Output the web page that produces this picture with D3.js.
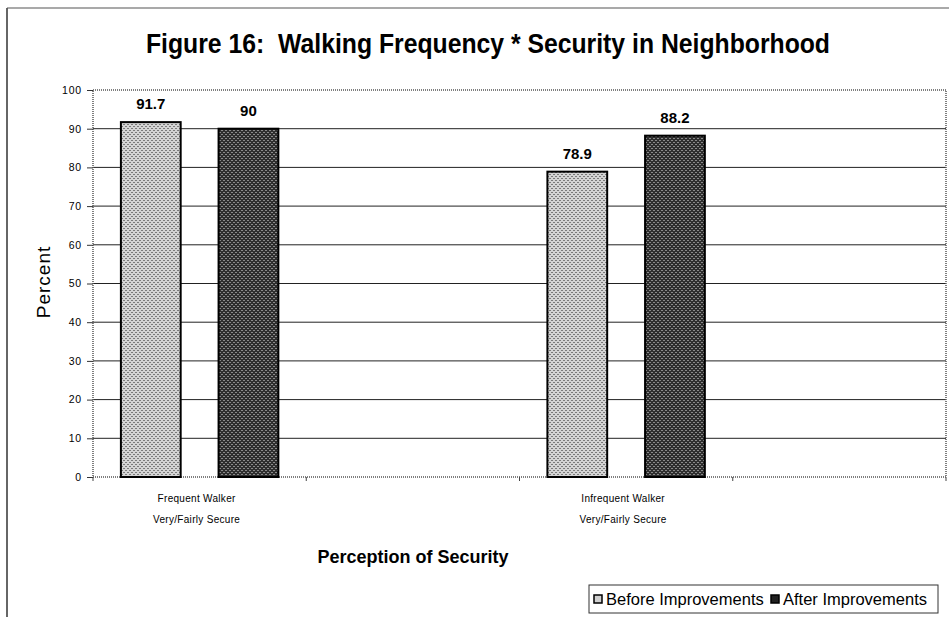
<!DOCTYPE html>
<html>
<head>
<meta charset="utf-8">
<script src="https://cdn.jsdelivr.net/npm/d3@7"></script>
<style>
  html, body { margin: 0; padding: 0; background: #fff; }
  svg { display: block; font-family: "Liberation Sans", Arial, sans-serif; }
</style>
</head>
<body>
<svg id="chart" width="949" height="617"></svg>
<script>
// ---- data ----
const categories = ["Frequent Walker|Very/Fairly Secure", "slot2", "Infrequent Walker|Very/Fairly Secure", "slot4"];
const categoryLabels = [["Frequent Walker", "Very/Fairly Secure"], [], ["Infrequent Walker", "Very/Fairly Secure"], []];
const seriesNames = ["Before Improvements", "After Improvements"];
const beforeValues = [91.7, null, 78.9, null];
const afterValues = [90, null, 88.2, null];
const yTicks = [0, 10, 20, 30, 40, 50, 60, 70, 80, 90, 100];
const titleText = "Figure 16:  Walking Frequency * Security in Neighborhood";
const xTitle = "Perception of Security";
const yTitle = "Percent";

// ---- layout ----
const svg = d3.select("#chart");
const plot = { left: 93, right: 946, top: 90, bottom: 477 };

const defs = svg.append("defs");
function dither(id, base, dot) {
  const p = defs.append("pattern").attr("id", id).attr("width", 4).attr("height", 4)
    .attr("patternUnits", "userSpaceOnUse");
  p.append("rect").attr("width", 4).attr("height", 4).attr("fill", base);
  p.append("rect").attr("x", 0).attr("y", 0).attr("width", 1).attr("height", 1).attr("fill", dot);
  p.append("rect").attr("x", 2).attr("y", 2).attr("width", 1).attr("height", 1).attr("fill", dot);
  p.append("rect").attr("x", 1).attr("y", 2).attr("width", 1).attr("height", 1).attr("fill", dot);
  p.append("rect").attr("x", 3).attr("y", 0).attr("width", 1).attr("height", 1).attr("fill", dot);
}
dither("patBefore", "#d4d4d4", "#7a7a7a");
dither("patAfter", "#2e2e2e", "#8a8a8a");
const fills = ["url(#patBefore)", "url(#patAfter)"];

// outer frame
svg.append("line").attr("x1", 7).attr("x2", 7).attr("y1", 8).attr("y2", 617)
  .attr("stroke", "#333").attr("stroke-width", 1.5);
svg.append("line").attr("x1", 7).attr("x2", 949).attr("y1", 8).attr("y2", 8)
  .attr("stroke", "#555").attr("stroke-width", 1.2);

// title
svg.append("text").attr("x", 488).attr("y", 53).attr("text-anchor", "middle")
  .attr("font-weight", "bold").attr("font-size", 27)
  .style("white-space", "pre").attr("xml:space", "preserve")
  .attr("textLength", 684).attr("lengthAdjust", "spacingAndGlyphs")
  .text(titleText);

// scales
const x = d3.scaleBand().domain(categories).range([plot.left, plot.right]).paddingInner(0).paddingOuter(0);
const xSub = d3.scaleBand().domain(seriesNames).range([0, x.bandwidth()]).paddingInner(0.388).paddingOuter(0.2857);
const y = d3.scaleLinear().domain([0, 100]).range([plot.bottom, plot.top]);

// gridlines
svg.append("g").selectAll("line").data(yTicks.filter(t => t > 0 && t < 100)).join("line")
  .attr("x1", plot.left).attr("x2", plot.right)
  .attr("y1", d => y(d)).attr("y2", d => y(d))
  .attr("stroke", "#222").attr("stroke-width", 1);

// plot border (dotted)
svg.append("rect").attr("x", plot.left).attr("y", plot.top)
  .attr("width", plot.right - plot.left).attr("height", plot.bottom - plot.top)
  .attr("fill", "none").attr("stroke", "#555").attr("stroke-width", 1.5)
  .attr("stroke-dasharray", "1,1");

// y axis
const yAxis = d3.axisLeft(y).tickValues(yTicks).tickSize(6).tickPadding(5);
const gy = svg.append("g").attr("transform", `translate(${plot.left},0)`).call(yAxis);
gy.select(".domain").remove();
gy.selectAll(".tick line").attr("stroke", "#333");
gy.selectAll(".tick text").attr("font-size", 10.5).attr("font-family", "Liberation Sans, Arial, sans-serif")
  .attr("letter-spacing", 0.8).attr("fill", "#000");

// x axis ticks at band boundaries
const boundaries = categories.map(c => x(c)).concat([x(categories[categories.length - 1]) + x.bandwidth()]);
svg.append("g").selectAll("line").data(boundaries).join("line")
  .attr("x1", d => d).attr("x2", d => d).attr("y1", plot.bottom).attr("y2", plot.bottom + 4)
  .attr("stroke", "#444");

// bars
const seriesValues = [beforeValues, afterValues];
const barData = [];
categories.forEach((c, i) => {
  seriesNames.forEach((s, j) => {
    const v = seriesValues[j][i];
    if (v !== null) barData.push({ c, s, v, j });
  });
});
const gBars = svg.append("g");
gBars.selectAll("rect").data(barData).join("rect")
  .attr("x", d => x(d.c) + xSub(d.s))
  .attr("y", d => y(d.v))
  .attr("width", xSub.bandwidth())
  .attr("height", d => y(0) - y(d.v))
  .attr("fill", d => fills[d.j])
  .attr("stroke", "#000").attr("stroke-width", 2);

gBars.selectAll("text").data(barData).join("text")
  .attr("x", d => x(d.c) + xSub(d.s) + xSub.bandwidth() / 2)
  .attr("y", d => y(d.v) - 13)
  .attr("text-anchor", "middle").attr("font-weight", "bold").attr("font-size", 15)
  .text(d => d.v);

// category labels
const gCat = svg.append("g");
categories.forEach((c, i) => {
  categoryLabels[i].forEach((line, k) => {
    gCat.append("text").attr("x", x(c) + x.bandwidth() / 2 - 3).attr("y", 502 + k * 21)
      .attr("text-anchor", "middle").attr("font-size", 10).attr("letter-spacing", 0.3)
      .text(line);
  });
});

// axis titles
svg.append("text").attr("x", 413).attr("y", 563).attr("text-anchor", "middle")
  .attr("font-weight", "bold").attr("font-size", 18).text(xTitle);
svg.append("text").attr("transform", "translate(50,282) rotate(-90)")
  .attr("text-anchor", "middle").attr("font-size", 19).attr("letter-spacing", 1).text(yTitle);

// legend
const lg = svg.append("g");
lg.append("rect").attr("x", 589).attr("y", 585).attr("width", 349).attr("height", 28)
  .attr("fill", "#fff").attr("stroke", "#333").attr("stroke-width", 1);
const legendItems = [
  { name: seriesNames[0], mx: 594, tx: 606, fill: "#d0d0d0" },
  { name: seriesNames[1], mx: 771, tx: 783, fill: "#222" }
];
legendItems.forEach((d, i) => {
  lg.append("rect").attr("x", d.mx).attr("y", 595).attr("width", 8).attr("height", 8)
    .attr("fill", d.fill).attr("stroke", "#000").attr("stroke-width", 1.5);
  lg.append("text").attr("x", d.tx).attr("y", 605).attr("font-size", 16.5).text(d.name);
});
</script>
</body>
</html>
